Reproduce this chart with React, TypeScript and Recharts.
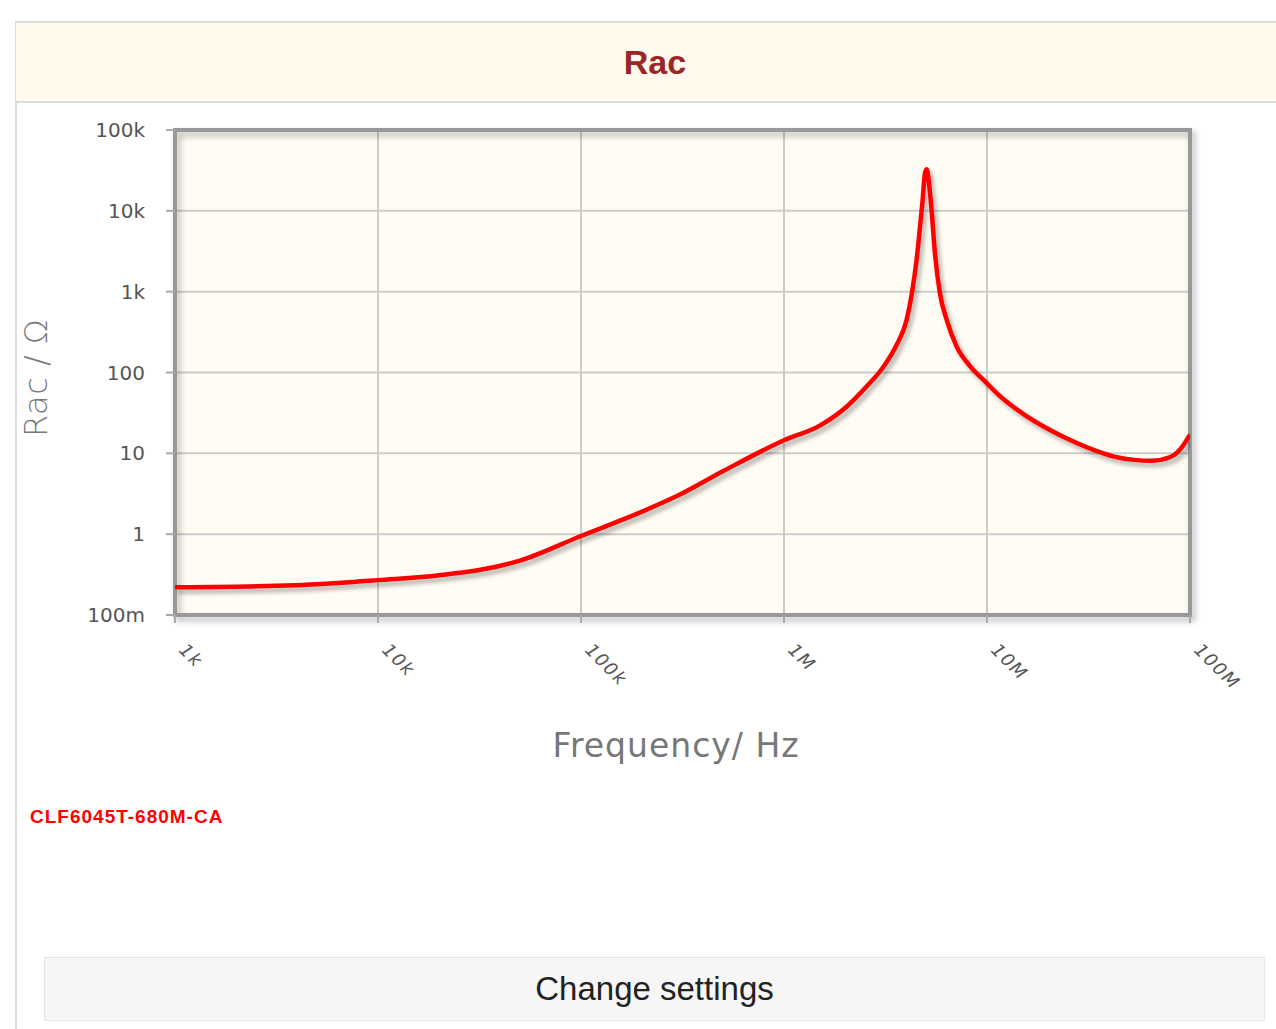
import React from "react";
import { LineChart, Line, XAxis, YAxis, CartesianGrid, ReferenceArea } from "recharts";

// Frequency in Hz
const frequencies = [
  1e3, 2e3, 5e3, 1e4, 2e4, 5e4, 1e5, 2e5, 3e5, 5e5, 1e6, 1.5e6, 2.04e6, 2.55e6, 3.09e6,
  3.59e6, 4.02e6, 4.26e6, 4.5e6, 4.68e6, 4.82e6, 4.95e6, 5.05e6, 5.2e6, 5.34e6, 5.54e6,
  5.87e6, 6.33e6, 7.09e6, 8.25e6, 9.97e6, 1.13e7, 1.5e7, 2e7, 2.6e7, 3.5e7, 4.5e7, 5.3e7,
  6.5e7, 8e7, 9e7, 1e8,
];
// Rac in ohms
const racValues = [
  0.22, 0.224, 0.24, 0.27, 0.31, 0.47, 0.95, 1.9, 3.0, 6.0, 14.5, 22, 38, 67, 118,
  220, 448, 940, 2475, 6400, 13700, 29500, 32800, 20000, 9800, 3000,
  940, 448, 209, 120, 74, 54, 31, 20, 14.4, 10.6, 8.8, 8.3, 8.1, 9.0, 11.4, 17,
];
const xTicks = [1e3, 1e4, 1e5, 1e6, 1e7, 1e8];
const xTickLabels = ["1k", "10k", "100k", "1M", "10M", "100M"];
const yTicks = [0.1, 1, 10, 100, 1e3, 1e4, 1e5];
const yTickLabels = ["100m", "1", "10", "100", "1k", "10k", "100k"];

const data = frequencies.map((f, i) => ({ f, rac: racValues[i] }));

const XTick = (props: any) => {
  const { x, y, payload } = props;
  const idx = xTicks.indexOf(payload.value);
  const tx = x + 3;
  const ty = y + 26;
  return (
    <text
      x={tx}
      y={ty}
      transform={`rotate(45 ${tx} ${ty})`}
      textAnchor="start"
      fontFamily="DejaVu Sans, sans-serif"
      fontSize={18}
      fontStyle="italic"
      letterSpacing={1.5}
      fill="#555"
    >
      {idx >= 0 ? xTickLabels[idx] : ""}
    </text>
  );
};

const YTick = (props: any) => {
  const { x, y, payload } = props;
  const idx = yTicks.findIndex((t) => Math.abs(Math.log10(t) - Math.log10(payload.value)) < 1e-6);
  return (
    <text
      x={x - 19}
      y={y + 7}
      textAnchor="end"
      fontFamily="DejaVu Sans, sans-serif"
      fontSize={20}
      fill="#555"
    >
      {idx >= 0 ? yTickLabels[idx] : ""}
    </text>
  );
};

export default function App() {
  return (
    <div style={{ position: "absolute", left: 0, top: 0, width: 1276, height: 1029, background: "#fff", overflow: "hidden", fontFamily: "Liberation Sans, Arial, sans-serif" }}>
      {/* panel left border */}
      <div style={{ position: "absolute", left: 15, top: 21, width: 2, height: 1010, background: "#ddd" }} />
      {/* title band */}
      <div
        style={{
          position: "absolute",
          left: 16,
          top: 21,
          width: 1262,
          height: 78,
          background: "#fffaec",
          borderTop: "2px solid #ddd",
          borderBottom: "2px solid #ddd",
          display: "flex",
          alignItems: "center",
          justifyContent: "center",
        }}
      >
        <span style={{ color: "#9b2626", fontWeight: "bold", fontSize: 34, fontFamily: "Liberation Sans, Arial, sans-serif", marginLeft: 16 }}>Rac</span>
      </div>

      <div style={{ position: "absolute", left: 0, top: 0 }}>
        <LineChart width={1276} height={760} data={data} margin={{ top: 130, right: 86, left: 115, bottom: 85 }}>
          <defs>
            <filter id="shadow" x="-10%" y="-10%" width="120%" height="130%">
              <feDropShadow dx="3" dy="4" stdDeviation="2" floodColor="#000" floodOpacity="0.3" />
            </filter>
          </defs>
          <CartesianGrid fill="#fffcf3" stroke="#cccccc" strokeWidth={2} horizontalValues={yTicks} verticalValues={xTicks} />
          <XAxis
            dataKey="f"
            type="number"
            scale="log"
            domain={[1e3, 1e8]}
            ticks={xTicks}
            tick={<XTick />}
            tickLine={{ stroke: "#aaa", strokeWidth: 2 }}
            tickSize={8}
            axisLine={false}
            height={60}
            allowDataOverflow
          />
          <YAxis
            dataKey="rac"
            type="number"
            scale="log"
            domain={[0.1, 1e5]}
            ticks={yTicks}
            tick={<YTick />}
            tickLine={{ stroke: "#aaa", strokeWidth: 2 }}
            tickSize={9}
            axisLine={false}
            width={60}
            allowDataOverflow
          />
          <ReferenceArea
            x1={1e3}
            x2={1e8}
            y1={0.1}
            y2={1e5}
            fill="none"
            fillOpacity={0}
            stroke="#999"
            strokeWidth={4}
            strokeOpacity={1}
            ifOverflow="visible"
            style={{ filter: "drop-shadow(3px 4px 3px rgba(0,0,0,0.3))" }}
          />
          <Line
            dataKey="rac"
            type="monotone"
            stroke="#ff0000"
            strokeWidth={4.5}
            dot={false}
            isAnimationActive={false}
            filter="url(#shadow)"
          />
        </LineChart>
      </div>

      {/* axis titles */}
      <div
        style={{
          position: "absolute",
          left: 36,
          top: 378,
          transform: "translate(-50%, -50%) rotate(-90deg)",
          fontSize: 32,
          color: "#777",
          fontFamily: "DejaVu Sans, sans-serif",
          fontWeight: 300,
          whiteSpace: "nowrap",
          letterSpacing: 0.5,
        }}
      >
        Rac / Ω
      </div>
      <div
        style={{
          position: "absolute",
          left: 676,
          top: 745,
          transform: "translate(-50%, -50%)",
          fontSize: 33,
          color: "#777",
          fontFamily: "DejaVu Sans, sans-serif",
          whiteSpace: "nowrap",
          letterSpacing: 1,
        }}
      >
        Frequency/ Hz
      </div>

      {/* legend */}
      <div style={{ position: "absolute", left: 30, top: 806, fontSize: 19, color: "#ff0000", fontFamily: "Liberation Sans Narrow, Liberation Sans, Arial, sans-serif", fontWeight: "bold", letterSpacing: 1, whiteSpace: "nowrap" }}>
        CLF6045T-680M-CA
      </div>

      {/* button */}
      <div
        style={{
          position: "absolute",
          left: 44,
          top: 957,
          width: 1219,
          height: 62,
          background: "#f6f6f6",
          border: "1px solid #e6e6e6",
          display: "flex",
          alignItems: "center",
          justifyContent: "center",
          fontSize: 33,
          color: "#222",
          fontFamily: "Liberation Sans, Arial, sans-serif",
        }}
      >
        Change settings
      </div>
    </div>
  );
}
